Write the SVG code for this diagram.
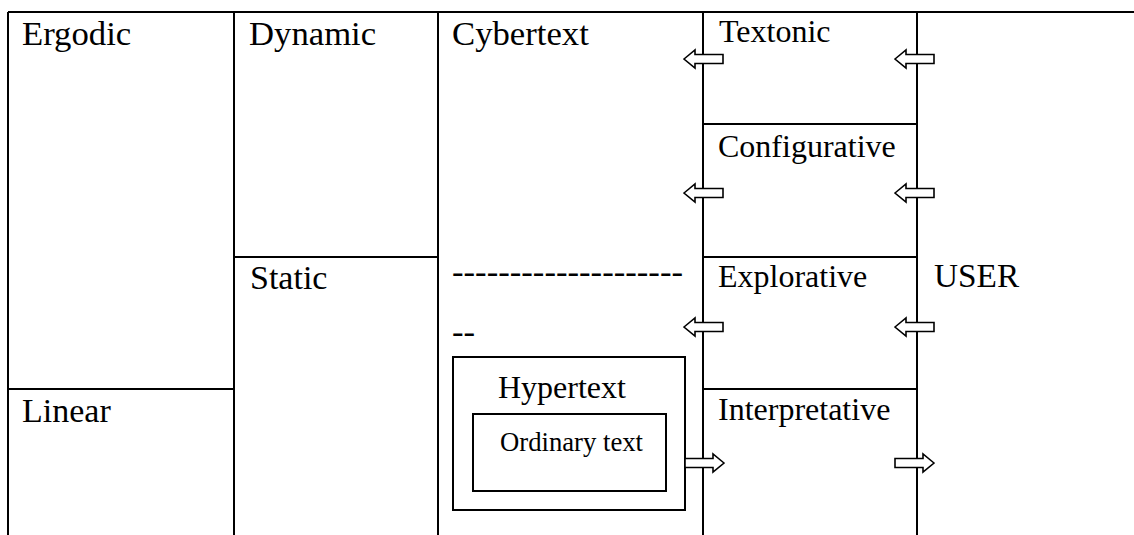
<svg xmlns="http://www.w3.org/2000/svg" width="1134" height="535" viewBox="0 0 1134 535">
<style>
.ln{stroke:#000;stroke-width:2;fill:none}
.bx{stroke:#000;stroke-width:2;fill:#fff}
.t{font-family:"Liberation Serif","Times New Roman",serif;font-size:32px;fill:#000}
.b{font-size:34.7px}
.m{font-size:34px}
.s{font-family:"Liberation Serif","Times New Roman",serif;font-size:26.7px;fill:#000}
.ar{stroke:#000;stroke-width:1.6;fill:#fff;stroke-linejoin:miter}
</style>
<defs>
<path id="la" d="M0,0 L11,-9 L11,-4.5 L39,-4.5 L39,4.5 L11,4.5 L11,9 Z"/>
<path id="ra" d="M39,0 L28,-9 L28,-4.5 L0,-4.5 L0,4.5 L28,4.5 L28,9 Z"/>
</defs>
<rect width="1134" height="535" fill="#fff"/>
<g id="grid">
<line class="ln" x1="8" y1="12" x2="1134" y2="12"/>
<line class="ln" x1="8" y1="12" x2="8" y2="535"/>
<line class="ln" x1="234" y1="12" x2="234" y2="535"/>
<line class="ln" x1="438" y1="12" x2="438" y2="535"/>
<line class="ln" x1="703" y1="12" x2="703" y2="535"/>
<line class="ln" x1="917" y1="12" x2="917" y2="535"/>
<line class="ln" x1="8" y1="389" x2="234" y2="389"/>
<line class="ln" x1="234" y1="257" x2="438" y2="257"/>
<line class="ln" x1="703" y1="124" x2="917" y2="124"/>
<line class="ln" x1="703" y1="257" x2="917" y2="257"/>
<line class="ln" x1="703" y1="389" x2="917" y2="389"/>
</g>
<g id="ergodic"><text class="t b" x="22" y="45">Ergodic</text></g>
<g id="linear"><text class="t m" x="22" y="422">Linear</text></g>
<g id="dynamic"><text class="t b" x="249" y="45">Dynamic</text></g>
<g id="static"><text class="t m" x="250" y="289">Static</text></g>
<g id="cybertext"><text class="t b" x="452" y="45">Cybertext</text></g>
<g id="dashes"><text class="t b" x="452" y="283">--------------------</text><text class="t b" x="452" y="343">--</text></g>
<g id="hypertext">
<rect class="bx" x="453" y="357" width="232" height="153"/>
<text class="t" x="498" y="398">Hypertext</text>
</g>
<g id="ordinary">
<rect class="bx" x="473" y="414" width="193" height="77"/>
<text class="s" x="500" y="451">Ordinary text</text>
</g>
<g id="textonic"><text class="t" x="719" y="42">Textonic</text></g>
<g id="configurative"><text class="t" x="718" y="157">Configurative</text></g>
<g id="explorative"><text class="t" x="718" y="287">Explorative</text></g>
<g id="interpretative"><text class="t" x="718" y="420">Interpretative</text></g>
<g id="user"><text class="t" x="934" y="287" style="font-size:33.3px">USER</text></g>
<g id="connectors">
<use href="#la" class="ar" x="684" y="59"/>
<use href="#la" class="ar" x="895" y="59"/>
<use href="#la" class="ar" x="684" y="193"/>
<use href="#la" class="ar" x="895" y="193"/>
<use href="#la" class="ar" x="684" y="327"/>
<use href="#la" class="ar" x="895" y="327"/>
<use href="#ra" class="ar" x="685" y="463"/>
<use href="#ra" class="ar" x="895" y="463"/>
</g>
</svg>
